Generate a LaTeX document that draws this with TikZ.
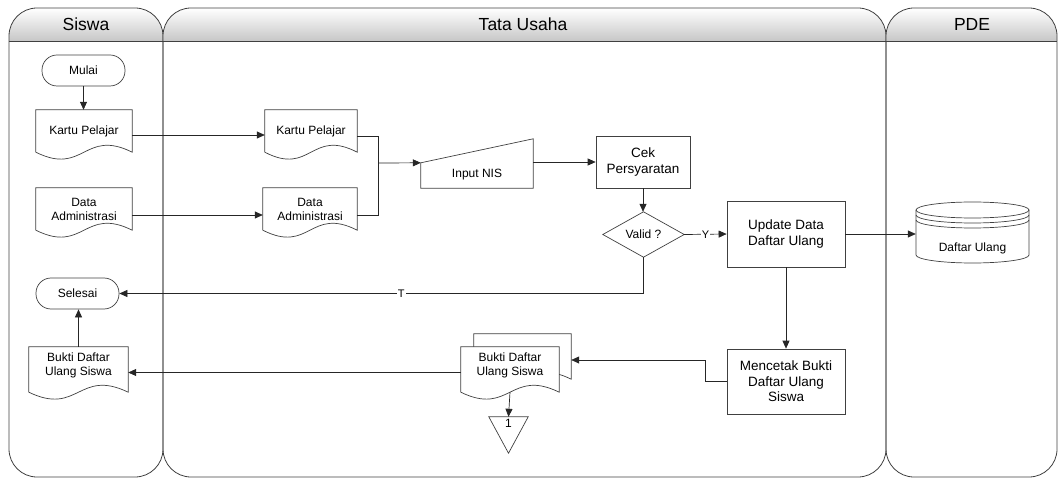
\documentclass[tikz,border=0pt]{standalone}
\usepackage{fontspec}
\setmainfont{Liberation Sans}
\usetikzlibrary{arrows.meta,calc,backgrounds}

\newcommand{\mydoc}[2]{% node name, extra depth of the wavy bottom (pt)
  \draw[shapeline, fill=white] ([yshift=-#2pt]#1.south west) -- (#1.north west) -- (#1.north east)
    -- ([yshift=-#2pt]#1.south east)
    .. controls ([yshift=-#2pt+24pt]#1.south) and ([yshift=-#2pt-24pt]#1.south) .. ([yshift=-#2pt]#1.south west);}

\begin{document}
\begin{tikzpicture}[x=1pt,y=-1pt,
  lane/.style={draw=black!75, line width=0.8pt, rounded corners=28pt},
  conn/.style={draw=black!85, line width=0.7pt},
  arr/.style={conn, -{Triangle[length=8pt,width=7pt]}},
  small/.style={font=\fontsize{12}{14}\selectfont, align=center},
  big/.style={font=\fontsize{13.5}{15.5}\selectfont, align=center},
  shapeline/.style={draw=black!75, line width=0.7pt},
  term/.style={shapeline, rounded corners=15pt, small, inner sep=0pt},
  proc/.style={shapeline, big, inner sep=0pt},
  docbox/.style={small, inner sep=0pt, minimum width=96pt, minimum height=42pt},
  lbl/.style={font=\fontsize{11}{12}\selectfont, fill=white, inner sep=1pt},
  head/.style={font=\fontsize{17.5}{20}\selectfont}
]
\useasboundingbox (0,0) rectangle (1059,478);

% swimlanes
\foreach \a/\b in {9/163,163/886,886/1057} {
  \begin{scope}
    \clip[rounded corners=28pt] (\a,8) rectangle (\b,477);
    \shade[top color=white, bottom color=black!22] (\a,8) rectangle (\b,41);
  \end{scope}
  \draw[lane] (\a,8) rectangle (\b,477);
  \draw[draw=black!75, line width=0.8pt] (\a,41) -- (\b,41);
}
\node[head] (hs) at (86,24) {Siswa};
\node[head] (ht) at (523,24) {Tata Usaha};
\node[head] (hp) at (972,24) {PDE};

% Siswa lane
\node[term, minimum width=83pt, minimum height=31pt] (mulai) at (83.5,70.5) {Mulai};
\node[docbox] (kp1) at (84,131) {Kartu Pelajar};
\node[docbox] (da1) at (84,209) {Data\\Administrasi};
\node[term, minimum width=83pt, minimum height=31pt] (sel) at (77.5,293.5) {Selesai};
\node[docbox, minimum width=99pt, minimum height=36pt] (bk1) at (78.5,365) {Bukti Daftar\\Ulang Siswa};

% Tata Usaha lane
\node[docbox, minimum width=92pt] (kp2) at (311,131) {Kartu Pelajar};
\node[docbox, minimum width=94pt] (da2) at (310,209) {Data\\Administrasi};
\node[minimum width=112pt, minimum height=49pt, inner sep=0pt] (nis) at (477,163.5) {};
\node[small] (nist) at (477,175) {Input NIS};
\draw[shapeline] (nis.south west) -- ([yshift=-24pt]nis.north west) -- (nis.north east) -- (nis.south east) -- cycle;
\node[proc, minimum width=94pt, minimum height=52pt] (cek) at (643,162) {Cek\\Persyaratan};
\node[small, minimum width=81pt, minimum height=45pt, inner sep=0pt] (val) at (643.5,234.5) {Valid ?};
\draw[shapeline] (val.north) -- (val.east) -- (val.south) -- (val.west) -- cycle;
\node[proc, minimum width=118pt, minimum height=66pt] (upd) at (786,234) {Update Data\\Daftar Ulang};
\node[proc, minimum width=118pt, minimum height=65pt] (mct) at (786,381.5) {Mencetak Bukti\\Daftar Ulang\\Siswa};
\node[docbox, minimum width=97pt, minimum height=36pt] (bkb) at (522.5,352) {};
\node[docbox, minimum width=98pt, minimum height=36pt] (bkf) at (510,365) {Bukti Daftar\\Ulang Siswa};
\node[minimum width=39pt, minimum height=36pt, inner sep=0pt] (tri) at (508.5,435) {};
\draw[shapeline] (tri.north west) -- (tri.north east) -- (tri.south) -- cycle;
\node[small, anchor=north, inner sep=2pt] (tril) at (tri.north) {1};

% PDE lane: database
\node[minimum width=113pt, minimum height=61pt, inner sep=0pt] (db) at (972.5,232.5) {};
\draw[shapeline] (916,210) -- (916,255) .. controls (916,259.4) and (941.3,263) .. (972.5,263)
  .. controls (1003.7,263) and (1029,259.4) .. (1029,255) -- (1029,210);
\draw[shapeline] (972.5,210) ellipse [x radius=56.5pt, y radius=8pt];
\draw[shapeline] (916,215) .. controls (916,219.4) and (941.3,223) .. (972.5,223)
  .. controls (1003.7,223) and (1029,219.4) .. (1029,215);
\draw[shapeline] (916,220) .. controls (916,224.4) and (941.3,228) .. (972.5,228)
  .. controls (1003.7,228) and (1029,224.4) .. (1029,220);
\node[small] (dbt) at (972.5,248) {Daftar Ulang};

% document outlines
\begin{scope}[on background layer]
  \mydoc{kp1}{0}
  \mydoc{da1}{0}
  \mydoc{kp2}{0}
  \mydoc{da2}{0}
  \mydoc{bk1}{9}
  \mydoc{bkb}{9}
  \mydoc{bkf}{9}
\end{scope}

% connectors
\coordinate (j) at (378,163);
\draw[arr] (mulai.south) -- (mulai.south |- kp1.north);
\draw[arr] ([yshift=-4pt]kp1.east) -- ([yshift=-4pt]kp2.west);
\draw[arr] ([yshift=-6pt]da1.east) -- ([yshift=-6pt]da2.west);
\draw[conn] ([yshift=-5pt]kp2.east) -| (j);
\draw[conn] ([yshift=-6pt]da2.east) -| (j);
\draw[arr] (j) -- ([yshift=-24pt]nis.north west);
\draw[arr] ([yshift=-24pt]nis.north east) -- ++(22,0) |- (cek.west);
\draw[arr] (cek.south) -- (cek.south |- val.north);
\draw[arr] (val.east) -- node[lbl] {Y} (upd.west);
\draw[arr] (val.south) |- node[lbl, pos=0.731] {T} (sel.east);
\draw[arr] (upd.east) -- (upd.east -| db.west);
\draw[arr] (upd.south) -- (mct.north);
\draw[arr] (mct.west) -- ++(-21,0) |- ([yshift=-8pt]bkb.east);
\draw[arr] ([yshift=-7.5pt]bkf.west) -- ([yshift=-7.5pt]bk1.east);
\draw[arr] ([yshift=-9pt]bkf.south) -- (tri.north);
\draw[arr] (bk1.north) -- (bk1.north |- sel.south);
\end{tikzpicture}
\end{document}
